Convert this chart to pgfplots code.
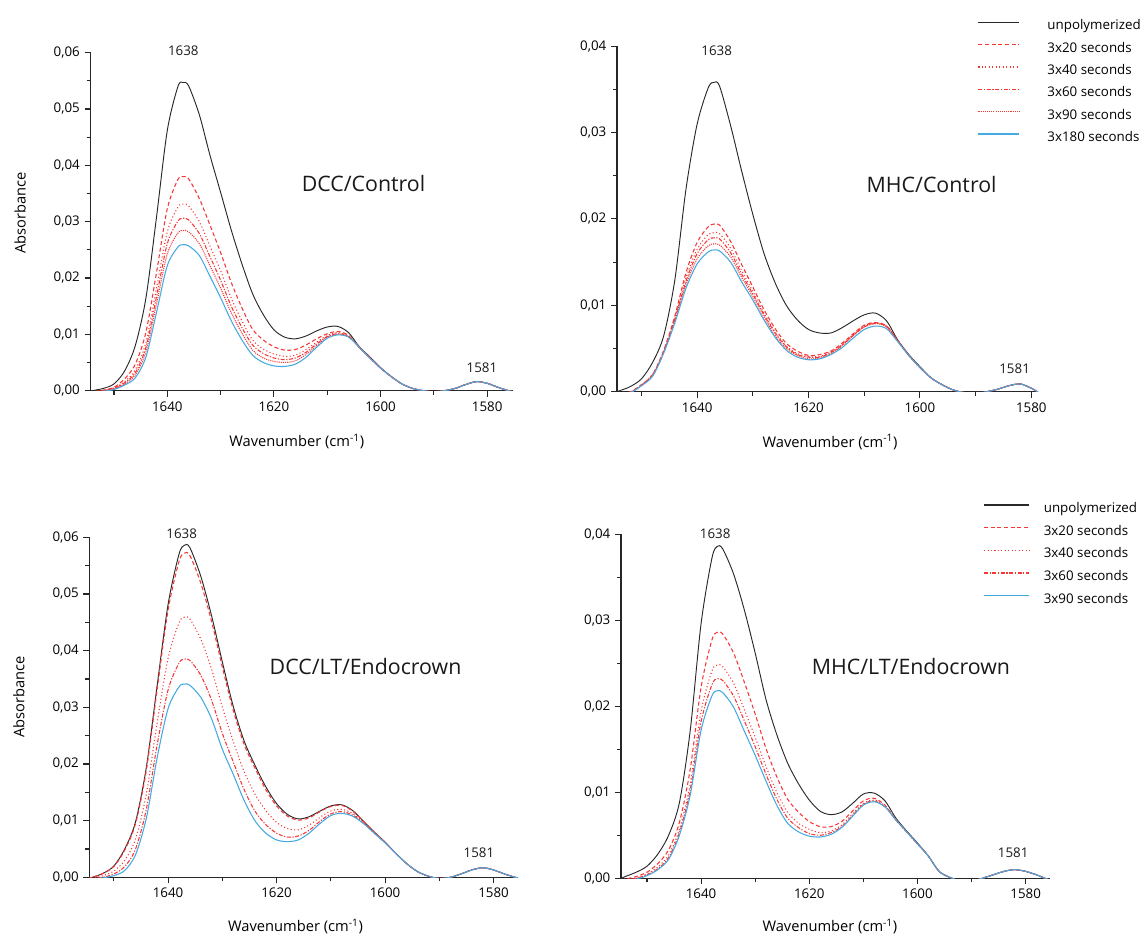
\documentclass[border=0pt]{standalone}
\usepackage{fontspec}
\setmainfont{Open Sans}
\usepackage{pgfplots}
\usepackage{pgfplotstable}
\pgfplotsset{compat=1.18}
\definecolor{cblk}{RGB}{40,40,40}
\definecolor{cred}{RGB}{245,55,55}
\definecolor{cblu}{RGB}{70,170,225}
\tikzset{
 sk/.style={cblk, line width=0.7pt, smooth},
 s20/.style={cred, line width=0.8pt, dash pattern=on 3pt off 2pt, smooth},
 s40/.style={cred, line width=0.8pt, dash pattern=on 0.8pt off 1.8pt, smooth},
 s60/.style={cred, line width=0.8pt, dash pattern=on 3pt off 1.2pt on 0.9pt off 1.2pt, smooth},
 s90/.style={cred, line width=0.8pt, dash pattern=on 0.8pt off 0.8pt, smooth},
 su/.style={cblu, line width=0.8pt, smooth},
 ttl/.style={font=\fontsize{16}{19}\selectfont, text=black!90},
 pk/.style={font=\fontsize{10}{12}\selectfont, text=black!90},
}
\pgfplotstableread{
x k a b c d u
1656 -0.0005 -0.0005 -0.0005 -0.0005 -0.0005 -0.0005
1654 0.0000 -0.0002 -0.0002 -0.0003 -0.0003 -0.0003
1652 0.0004 0.0001 0.0000 0.0000 -0.0001 -0.0001
1650 0.0012 0.0006 0.0005 0.0004 0.0003 0.0002
1648 0.0035 0.0021 0.0016 0.0014 0.0012 0.0010
1646 0.0080 0.0047 0.0037 0.0032 0.0028 0.0023
1644 0.0165 0.0104 0.0086 0.0077 0.0069 0.0060
1642 0.0310 0.0211 0.0183 0.0168 0.0155 0.0140
1640 0.0462 0.0323 0.0282 0.0261 0.0243 0.0222
1638 0.0540 0.0375 0.0326 0.0301 0.0280 0.0255
1637 0.0547 0.0380 0.0331 0.0306 0.0284 0.0259
1636 0.0541 0.0376 0.0328 0.0303 0.0282 0.0257
1634 0.0490 0.0341 0.0300 0.0279 0.0261 0.0240
1632 0.0418 0.0294 0.0257 0.0238 0.0222 0.0203
1630 0.0352 0.0245 0.0213 0.0196 0.0182 0.0165
1628 0.0285 0.0192 0.0164 0.0150 0.0138 0.0124
1626 0.0225 0.0147 0.0124 0.0112 0.0102 0.0090
1624 0.0172 0.0109 0.0090 0.0081 0.0072 0.0063
1622 0.0135 0.0090 0.0074 0.0066 0.0058 0.0050
1620 0.0108 0.0078 0.0065 0.0058 0.0052 0.0044
1618 0.0095 0.0072 0.0061 0.0055 0.0050 0.0043
1616 0.0092 0.0073 0.0063 0.0058 0.0053 0.0047
1614 0.0097 0.0081 0.0073 0.0068 0.0064 0.0059
1612 0.0106 0.0092 0.0086 0.0083 0.0080 0.0077
1610 0.0113 0.0101 0.0098 0.0096 0.0095 0.0093
1608 0.0114 0.0105 0.0103 0.0101 0.0100 0.0099
1606 0.0103 0.0098 0.0097 0.0096 0.0096 0.0095
1604 0.0078 0.0077 0.0077 0.0077 0.0077 0.0077
1602 0.0060 0.0059 0.0058 0.0058 0.0058 0.0058
1600 0.0041 0.0040 0.0040 0.0040 0.0040 0.0040
1598 0.0025 0.0025 0.0025 0.0025 0.0025 0.0025
1596 0.0012 0.0012 0.0012 0.0012 0.0012 0.0012
1594 0.0004 0.0004 0.0004 0.0004 0.0004 0.0004
1592 0.0000 0.0000 0.0000 0.0000 0.0000 0.0000
1590 -0.0002 -0.0002 -0.0002 -0.0002 -0.0002 -0.0002
1588 0.0000 0.0000 0.0000 0.0000 0.0000 0.0000
1586 0.0004 0.0004 0.0004 0.0004 0.0004 0.0004
1584 0.0011 0.0011 0.0011 0.0011 0.0011 0.0011
1582 0.0016 0.0016 0.0016 0.0016 0.0016 0.0016
1580 0.0013 0.0013 0.0013 0.0013 0.0013 0.0013
1578 0.0006 0.0006 0.0006 0.0006 0.0006 0.0006
1576 0.0000 0.0000 0.0000 0.0000 0.0000 0.0000
1574 -0.0004 -0.0004 -0.0004 -0.0004 -0.0004 -0.0004
}\dataTL
\pgfplotstableread{
x k a b c d u
1656 -0.0003 -0.0005 -0.0005 -0.0005 -0.0005 -0.0005
1654 0.0001 -0.0003 -0.0003 -0.0003 -0.0003 -0.0003
1652 0.0006 0.0000 -0.0001 -0.0001 -0.0001 -0.0001
1650 0.0015 0.0008 0.0008 0.0008 0.0007 0.0007
1648 0.0034 0.0020 0.0020 0.0019 0.0019 0.0018
1646 0.0065 0.0048 0.0047 0.0046 0.0046 0.0045
1644 0.0130 0.0088 0.0085 0.0084 0.0082 0.0080
1642 0.0235 0.0138 0.0132 0.0128 0.0124 0.0120
1640 0.0310 0.0173 0.0165 0.0160 0.0154 0.0148
1638 0.0352 0.0191 0.0182 0.0176 0.0169 0.0162
1637 0.0358 0.0194 0.0184 0.0178 0.0171 0.0164
1636 0.0354 0.0193 0.0183 0.0177 0.0170 0.0163
1634 0.0308 0.0174 0.0166 0.0161 0.0156 0.0150
1632 0.0255 0.0147 0.0140 0.0136 0.0132 0.0127
1630 0.0205 0.0121 0.0116 0.0113 0.0110 0.0106
1628 0.0160 0.0095 0.0091 0.0089 0.0086 0.0083
1626 0.0126 0.0073 0.0069 0.0068 0.0065 0.0063
1624 0.0100 0.0056 0.0053 0.0052 0.0050 0.0048
1622 0.0083 0.0047 0.0044 0.0043 0.0042 0.0040
1620 0.0072 0.0042 0.0041 0.0040 0.0038 0.0037
1618 0.0068 0.0043 0.0041 0.0040 0.0039 0.0038
1616 0.0068 0.0047 0.0046 0.0045 0.0044 0.0043
1614 0.0074 0.0056 0.0054 0.0054 0.0053 0.0051
1612 0.0082 0.0067 0.0066 0.0065 0.0065 0.0062
1610 0.0089 0.0077 0.0076 0.0075 0.0075 0.0072
1608 0.0091 0.0080 0.0080 0.0079 0.0079 0.0076
1606 0.0082 0.0076 0.0076 0.0076 0.0075 0.0073
1604 0.0060 0.0059 0.0059 0.0059 0.0059 0.0058
1602 0.0043 0.0042 0.0042 0.0042 0.0042 0.0042
1600 0.0029 0.0028 0.0028 0.0028 0.0028 0.0028
1598 0.0016 0.0016 0.0016 0.0016 0.0016 0.0016
1596 0.0008 0.0008 0.0008 0.0008 0.0008 0.0008
1594 0.0002 0.0002 0.0002 0.0002 0.0002 0.0002
1592 -0.0001 -0.0001 -0.0001 -0.0001 -0.0001 -0.0001
1590 -0.0002 -0.0002 -0.0002 -0.0002 -0.0002 -0.0002
1588 0.0000 0.0000 0.0000 0.0000 0.0000 0.0000
1586 0.0003 0.0003 0.0003 0.0003 0.0003 0.0003
1584 0.0007 0.0007 0.0007 0.0007 0.0007 0.0007
1582 0.0009 0.0009 0.0009 0.0009 0.0009 0.0009
1580 0.0004 0.0004 0.0004 0.0004 0.0004 0.0004
1578 -0.0003 -0.0003 -0.0003 -0.0003 -0.0003 -0.0003
1576 -0.0005 -0.0005 -0.0005 -0.0005 -0.0005 -0.0005
}\dataTR
\pgfplotstableread{
x k a b c u
1656 -0.0004 -0.0004 -0.0005 -0.0005 -0.0005
1654 0.0000 0.0000 -0.0002 -0.0002 -0.0003
1652 0.0007 0.0007 0.0003 0.0000 -0.0001
1650 0.0020 0.0019 0.0011 0.0006 0.0003
1648 0.0050 0.0048 0.0030 0.0019 0.0012
1646 0.0098 0.0095 0.0068 0.0050 0.0040
1644 0.0195 0.0190 0.0148 0.0121 0.0105
1642 0.0340 0.0333 0.0274 0.0235 0.0212
1640 0.0482 0.0472 0.0387 0.0331 0.0298
1638 0.0570 0.0557 0.0449 0.0378 0.0336
1637 0.0586 0.0572 0.0459 0.0385 0.0341
1636 0.0582 0.0568 0.0456 0.0383 0.0339
1634 0.0532 0.0520 0.0421 0.0357 0.0318
1632 0.0462 0.0452 0.0368 0.0313 0.0280
1630 0.0380 0.0371 0.0300 0.0254 0.0226
1628 0.0302 0.0295 0.0240 0.0204 0.0182
1626 0.0241 0.0235 0.0187 0.0155 0.0136
1624 0.0198 0.0193 0.0147 0.0117 0.0100
1622 0.0160 0.0155 0.0118 0.0093 0.0078
1620 0.0130 0.0126 0.0097 0.0078 0.0066
1618 0.0111 0.0108 0.0086 0.0071 0.0063
1616 0.0103 0.0101 0.0084 0.0073 0.0066
1614 0.0107 0.0105 0.0092 0.0083 0.0078
1612 0.0117 0.0116 0.0106 0.0099 0.0095
1610 0.0126 0.0125 0.0117 0.0112 0.0109
1608 0.0128 0.0127 0.0120 0.0116 0.0113
1606 0.0118 0.0117 0.0113 0.0110 0.0108
1604 0.0099 0.0099 0.0097 0.0096 0.0095
1602 0.0080 0.0080 0.0079 0.0078 0.0078
1600 0.0062 0.0062 0.0061 0.0061 0.0061
1598 0.0042 0.0042 0.0042 0.0042 0.0042
1596 0.0024 0.0024 0.0024 0.0024 0.0024
1594 0.0010 0.0010 0.0010 0.0010 0.0010
1592 0.0002 0.0002 0.0002 0.0002 0.0002
1590 -0.0002 -0.0002 -0.0002 -0.0002 -0.0002
1588 0.0000 0.0000 0.0000 0.0000 0.0000
1586 0.0006 0.0006 0.0006 0.0006 0.0006
1584 0.0013 0.0013 0.0013 0.0013 0.0013
1582 0.0017 0.0017 0.0017 0.0017 0.0017
1580 0.0013 0.0013 0.0013 0.0013 0.0013
1578 0.0006 0.0006 0.0006 0.0006 0.0006
1576 0.0000 0.0000 0.0000 0.0000 0.0000
1574 -0.0005 -0.0005 -0.0005 -0.0005 -0.0005
}\dataBL
\pgfplotstableread{
x k a b c u
1656 -0.0003 -0.0004 -0.0005 -0.0005 -0.0005
1654 0.0002 -0.0001 -0.0002 -0.0003 -0.0003
1652 0.0007 0.0002 0.0000 0.0000 -0.0001
1650 0.0014 0.0007 0.0005 0.0004 0.0003
1648 0.0028 0.0017 0.0013 0.0011 0.0010
1646 0.0050 0.0033 0.0027 0.0024 0.0022
1644 0.0088 0.0065 0.0057 0.0053 0.0050
1642 0.0172 0.0127 0.0110 0.0103 0.0097
1640 0.0296 0.0222 0.0194 0.0182 0.0172
1638 0.0372 0.0277 0.0241 0.0225 0.0212
1637 0.0386 0.0286 0.0248 0.0232 0.0218
1636 0.0383 0.0284 0.0246 0.0230 0.0216
1634 0.0354 0.0262 0.0227 0.0212 0.0199
1632 0.0312 0.0228 0.0196 0.0183 0.0171
1630 0.0262 0.0191 0.0164 0.0153 0.0143
1628 0.0208 0.0151 0.0130 0.0121 0.0113
1626 0.0167 0.0118 0.0100 0.0092 0.0085
1624 0.0134 0.0092 0.0077 0.0070 0.0064
1622 0.0110 0.0077 0.0064 0.0059 0.0054
1620 0.0091 0.0066 0.0057 0.0052 0.0049
1618 0.0078 0.0060 0.0053 0.0050 0.0048
1616 0.0074 0.0060 0.0055 0.0053 0.0051
1614 0.0077 0.0066 0.0062 0.0060 0.0059
1612 0.0087 0.0078 0.0075 0.0073 0.0072
1610 0.0098 0.0090 0.0087 0.0086 0.0085
1608 0.0099 0.0093 0.0091 0.0090 0.0089
1606 0.0090 0.0085 0.0084 0.0083 0.0083
1604 0.0070 0.0068 0.0068 0.0068 0.0068
1602 0.0055 0.0054 0.0054 0.0054 0.0054
1600 0.0041 0.0040 0.0040 0.0040 0.0040
1598 0.0026 0.0026 0.0026 0.0026 0.0026
1596 0.0008 0.0008 0.0008 0.0008 0.0008
1594 0.0001 0.0001 0.0001 0.0001 0.0001
1592 -0.0003 -0.0003 -0.0003 -0.0003 -0.0003
1590 -0.0003 -0.0003 -0.0003 -0.0003 -0.0003
1588 0.0000 0.0000 0.0000 0.0000 0.0000
1586 0.0004 0.0004 0.0004 0.0004 0.0004
1584 0.0008 0.0008 0.0008 0.0008 0.0008
1582 0.0010 0.0010 0.0010 0.0010 0.0010
1580 0.0008 0.0008 0.0008 0.0008 0.0008
1578 0.0004 0.0004 0.0004 0.0004 0.0004
1576 -0.0001 -0.0001 -0.0001 -0.0001 -0.0001
1574 -0.0004 -0.0004 -0.0004 -0.0004 -0.0004
}\dataBR
\pgfplotsset{
 panel/.style={
  scale only axis, x dir=reverse,
  axis x line*=bottom, axis y line*=left,
  axis line style={-, black!85, line width=0.9pt},
  tick style={black!85, line width=0.8pt},
  tick align=outside,
  major tick length=4.5pt, minor tick length=3pt,
  xtick={1580,1600,1620,1640}, minor xtick={1590,1610,1630,1650},
  minor y tick num=1,
  scaled y ticks=false,
  clip mode=individual,
  /pgf/number format/assume math mode=true,
  xticklabel style={font=\fontsize{10}{12}\selectfont, /pgf/number format/1000 sep={}},
  yticklabel style={font=\fontsize{10}{12}\selectfont,
    /pgf/number format/fixed, /pgf/number format/fixed zerofill,
    /pgf/number format/precision=2, /pgf/number format/use comma},
  label style={font=\fontsize{11}{13}\selectfont},
  xlabel={Wavenumber (cm\textsuperscript{-1})},
  ymin=0,
 },
}
\begin{document}
\begin{tikzpicture}
\useasboundingbox (0,0) rectangle (856.5pt,700.5pt);
% top-left
\begin{axis}[panel, at={(67.9pt,407.5pt)}, anchor=south west,
  width=317.1pt, height=253.5pt, xmin=1575.1, xmax=1654.4, ymax=0.06,
  ytick={0,0.01,0.02,0.03,0.04,0.05,0.06},
  ylabel={Absorbance},
  xlabel style={at={(axis description cs:0.488,-0.151)}, anchor=center},
  ylabel style={at={(axis description cs:-0.1667,0.526)}, anchor=center}]
\addplot[sk] table[x=x,y=k] {\dataTL};
\addplot[s20] table[x=x,y=a] {\dataTL};
\addplot[s40] table[x=x,y=b] {\dataTL};
\addplot[s60] table[x=x,y=c] {\dataTL};
\addplot[s90] table[x=x,y=d] {\dataTL};
\addplot[su] table[x=x,y=u] {\dataTL};
\node[ttl] at (axis cs:1603.2,0.0367) {DCC/Control};
\node[pk] at (axis cs:1637.0,0.0604) {1638};
\node[pk] at (axis cs:1581.0,0.0040) {1581};
\end{axis}
% top-right
\begin{axis}[panel, at={(462.75pt,406.7pt)}, anchor=south west,
  width=315.75pt, height=259.2pt, xmin=1578.8, xmax=1654.4, ymax=0.04,
  ytick={0,0.01,0.02,0.03,0.04},
  xlabel style={at={(axis description cs:0.506,-0.1455)}, anchor=center},
  legend style={draw=none, fill=none, inner sep=0pt, at={(0.8565,1.0764)}, anchor=north west,
    font=\fontsize{10}{12}\selectfont, row sep=6.75pt,
    nodes={inner sep=0pt, text height=7.5pt, text depth=2.5pt},
    /tikz/every odd column/.append style={column sep=20.7pt}},
  legend cell align=left,
  legend image code/.code={\draw[#1, line width=0.9pt] (0pt,3.2pt) -- (30.6pt,3.2pt);}]
\addplot[sk] table[x=x,y=k] {\dataTR};
\addlegendentry{unpolymerized}
\addplot[s20] table[x=x,y=a] {\dataTR};
\addlegendentry{3x20 seconds}
\addplot[s40] table[x=x,y=b] {\dataTR};
\addlegendentry{3x40 seconds}
\addplot[s60] table[x=x,y=c] {\dataTR};
\addlegendentry{3x60 seconds}
\addplot[s90] table[x=x,y=d] {\dataTR};
\addlegendentry{3x90 seconds}
\addplot[su] table[x=x,y=u] {\dataTR};
\addlegendentry{3x180 seconds}
\node[ttl] at (axis cs:1597.9,0.0240) {MHC/Control};
\node[pk] at (axis cs:1636.5,0.0395) {1638};
\node[pk] at (axis cs:1583.0,0.0027) {1581};
\end{axis}
% bottom-left
\begin{axis}[panel, at={(67.1pt,42.5pt)}, anchor=south west,
  width=321.4pt, height=255pt, xmin=1575.5, xmax=1654.5, ymax=0.06,
  ytick={0,0.01,0.02,0.03,0.04,0.05,0.06},
  ylabel={Absorbance},
  xlabel style={at={(axis description cs:0.481,-0.145)}, anchor=center},
  ylabel style={at={(axis description cs:-0.1645,0.531)}, anchor=center}]
\addplot[sk] table[x=x,y=k] {\dataBL};
\addplot[s20] table[x=x,y=a] {\dataBL};
\addplot[s40] table[x=x,y=b] {\dataBL};
\addplot[s60] table[x=x,y=c] {\dataBL};
\addplot[su] table[x=x,y=u] {\dataBL};
\node[ttl] at (axis cs:1603.6,0.0372) {DCC/LT/Endocrown};
\node[pk] at (axis cs:1637.5,0.0607) {1638};
\node[pk] at (axis cs:1582.7,0.0043) {1581};
\end{axis}
% bottom-right
\begin{axis}[panel, at={(465.75pt,41.8pt)}, anchor=south west,
  width=321.75pt, height=258pt, xmin=1575.5, xmax=1654.8, ymax=0.04,
  ytick={0,0.01,0.02,0.03,0.04},
  xlabel style={at={(axis description cs:0.487,-0.141)}, anchor=center},
  legend style={draw=none, fill=none, inner sep=0pt, at={(0.8443,1.0931)}, anchor=north west,
    font=\fontsize{10}{12}\selectfont, row sep=7pt,
    nodes={inner sep=0pt, text height=7.5pt, text depth=2.5pt},
    /tikz/every odd column/.append style={column sep=10.5pt}},
  legend cell align=left,
  legend image code/.code={\draw[#1, line width=0.9pt] (0pt,3.2pt) -- (33.9pt,3.2pt);}]
\addplot[sk] table[x=x,y=k] {\dataBR};
\addlegendentry{unpolymerized}
\addplot[s20] table[x=x,y=a] {\dataBR};
\addlegendentry{3x20 seconds}
\addplot[s40] table[x=x,y=b] {\dataBR};
\addlegendentry{3x40 seconds}
\addplot[s60] table[x=x,y=c] {\dataBR};
\addlegendentry{3x60 seconds}
\addplot[su] table[x=x,y=u] {\dataBR};
\addlegendentry{3x90 seconds}
\node[ttl] at (axis cs:1601.2,0.0246) {MHC/LT/Endocrown};
\node[pk] at (axis cs:1637.4,0.0401) {1638};
\node[pk] at (axis cs:1582.3,0.0030) {1581};
\end{axis}
\end{tikzpicture}
\end{document}
